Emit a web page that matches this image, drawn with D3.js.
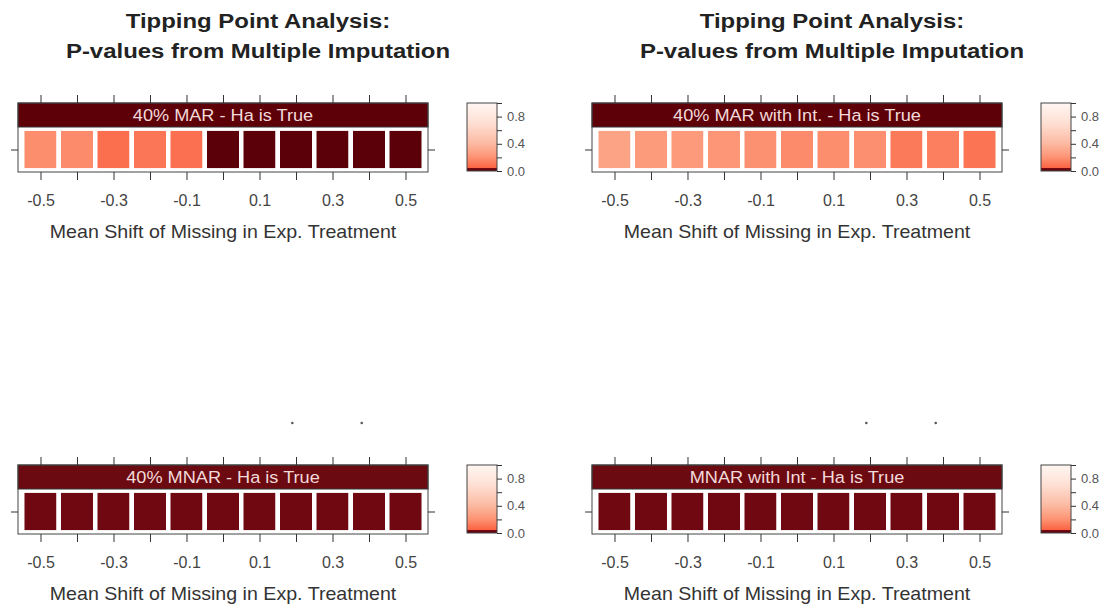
<!DOCTYPE html>
<html>
<head>
<meta charset="utf-8">
<script src="https://cdn.jsdelivr.net/npm/d3@7"></script>
<style>
  body { margin: 0; background: #fff; }
  svg { display: block; font-family: "Liberation Sans", Arial, sans-serif; }
</style>
</head>
<body>
<script>
const shifts = [-0.5, -0.4, -0.3, -0.2, -0.1, 0, 0.1, 0.2, 0.3, 0.4, 0.5];
const shiftLabels = [-0.5, -0.3, -0.1, 0.1, 0.3, 0.5];

// p-values
const pMar = [0.184, 0.177, 0.086, 0.109, 0.089, 0.002, 0.002, 0.002, 0.002, 0.002, 0.002];
const pMarInt = [0.282, 0.241, 0.24, 0.22, 0.197, 0.177, 0.187, 0.19, 0.122, 0.141, 0.105];
const pMnar = [0.035, 0.035, 0.035, 0.035, 0.035, 0.035, 0.035, 0.035, 0.035, 0.035, 0.035];
const pMnarInt = [0.035, 0.035, 0.035, 0.035, 0.035, 0.035, 0.035, 0.035, 0.035, 0.035, 0.035];

const stripLabels = ["40% MAR - Ha is True", "40% MAR with Int. - Ha is True", "40% MNAR - Ha is True", "MNAR with Int - Ha is True"];
const titleLines = ["Tipping Point Analysis:", "P-values from Multiple Imputation"];
const axisTitle = "Mean Shift of Missing in Exp. Treatment";
const keyTicks = [0, 0.2, 0.4, 0.6, 0.8, 1.0];
const keyLabels = [0, 0.4, 0.8];
const specks = [0.19, 0.38];

const W = 1120, H = 610;

const darkScale = d3.scaleLinear().domain([0, 0.05]).range(["#5a0008", "#7a0c16"]);
const lightScale = d3.scaleLinear().
domain([0.05, 0.2, 0.4, 0.7, 1]).
range(["#fb6444", "#fc9272", "#fcb9a1", "#fedfd3", "#fff6f2"]);
const color = p => p < 0.05 ? darkScale(p) : lightScale(p);

const panels = [
{ label: stripLabels[0], values: pMar, left: 18, top: 103, strip: "#5e0008", title: true },
{ label: stripLabels[1], values: pMarInt, left: 592, top: 103, strip: "#5e0008", title: true },
{ label: stripLabels[2], values: pMnar, left: 18, top: 465, strip: "#6c0a12", title: false },
{ label: stripLabels[3], values: pMnarInt, left: 592, top: 465, strip: "#6c0a12", title: false }];


const svg = d3.select("body").
append("svg").
attr("width", W).
attr("height", H);

const grad = svg.append("defs").
append("linearGradient").
attr("id", "keyGrad").
attr("x1", 0).attr("y1", 1).
attr("x2", 0).attr("y2", 0);

const stops = [];
d3.range(0, 0.05, 0.01).forEach(v => stops.push(v));
stops.push(0.0499);
d3.range(0.05, 1.001, 0.025).forEach(v => stops.push(v));
grad.selectAll("stop").
data(stops).
enter().
append("stop").
attr("offset", d => d).
attr("stop-color", d => color(d));

function styleAxis(g) {
  g.select(".domain").remove();
  g.selectAll(".tick line").attr("stroke", "#333");
  g.selectAll(".tick text").attr("fill", "#444");
}

// the source picture is a little stretched sideways, so text is too
function wideText(sel, cx, cy, sx) {
  return sel.
  attr("text-anchor", "middle").
  attr("transform", "translate(" + cx + "," + cy + ") scale(" + sx + ",1)");
}

panels.forEach(p => {
  const pw = 410, stripH = 24, ph = 69;
  const right = p.left + pw, bottom = p.top + ph;
  const cx = (p.left + right) / 2;

  const x = d3.scaleLinear().domain([-0.5616, 0.5616]).range([p.left, right]);
  const y = d3.scaleLinear().domain([0.46, 1.54]).range([bottom, p.top + stripH]);
  const step = x(0.1) - x(0);

  const g = svg.append("g");

  g.selectAll("rect.cell").
  data(shifts.map((s, i) => ({ s: s, p: p.values[i] }))).
  enter().
  append("rect").
  attr("class", "cell").
  attr("x", d => x(d.s) - step / 2).
  attr("y", y(1.5)).
  attr("width", step).
  attr("height", y(0.5) - y(1.5)).
  attr("fill", d => color(d.p)).
  attr("stroke", "#fff").
  attr("stroke-width", 4.5);

  // strip
  g.append("rect").
  attr("x", p.left).
  attr("y", p.top).
  attr("width", pw).
  attr("height", stripH).
  attr("fill", p.strip).
  attr("stroke", "#333");

  g.append("text").
  call(wideText, cx, p.top + stripH / 2 + 6, 1.1).
  attr("font-size", 16.5).
  attr("fill", "#f3dada").
  text(p.label);

  g.append("rect").
  attr("x", p.left).
  attr("y", p.top).
  attr("width", pw).
  attr("height", ph).
  attr("fill", "none").
  attr("stroke", "#444");

  g.append("g").
  attr("transform", "translate(0," + p.top + ")").
  call(d3.axisTop(x).tickValues(shifts).tickSize(8).tickFormat("")).
  call(styleAxis);

  g.append("g").
  attr("transform", "translate(0," + bottom + ")").
  call(d3.axisBottom(x).tickValues(shifts).tickSize(8).tickPadding(15).
  tickFormat(d => shiftLabels.indexOf(d) !== -1 ? String(d) : "")).
  call(styleAxis).
  selectAll("text").
  attr("font-size", 16);

  g.append("g").
  attr("transform", "translate(" + p.left + ",0)").
  call(d3.axisLeft(y).tickValues([1]).tickSize(7).tickFormat("")).
  call(styleAxis);

  g.append("g").
  attr("transform", "translate(" + right + ",0)").
  call(d3.axisRight(y).tickValues([1]).tickSize(7).tickFormat("")).
  call(styleAxis);

  g.append("text").
  call(wideText, cx, bottom + 66, 1.09).
  attr("font-size", 18).
  attr("fill", "#333").
  text(axisTitle);

  //colour key
  const kx = right + 39, kw = 30;
  const ky = d3.scaleLinear().domain([0, 1]).range([bottom - 1, p.top]);

  g.append("rect").
  attr("x", kx).
  attr("y", ky(1)).
  attr("width", kw).
  attr("height", ky(0) - ky(1)).
  attr("fill", "url(#keyGrad)").
  attr("stroke", "#444");

  g.append("g").
  attr("transform", "translate(" + (kx + kw) + ",0)").
  call(d3.axisRight(ky).tickValues(keyTicks).tickSize(5).tickPadding(5).
  tickFormat(d => keyLabels.indexOf(d) !== -1 ? d.toFixed(1) : "")).
  call(styleAxis).
  selectAll("text").
  attr("font-size", 13).
  attr("fill", "#555");

  if (p.title) {
    g.selectAll("text.title").
    data(titleLines).
    enter().
    append("text").
    attr("class", "title").
    each(function (d, i) {
      d3.select(this).call(wideText, cx + 35, 28 + i * 30, 1.14);
    }).
    attr("font-size", 21).
    attr("font-weight", "bold").
    attr("fill", "#222").
    text(d => d);
  } else {
    g.selectAll("circle.speck").
    data(specks).
    enter().
    append("circle").
    attr("class", "speck").
    attr("cx", d => x(d)).
    attr("cy", p.top - 42).
    attr("r", 1.3).
    attr("fill", "#555");
  }
});
</script>
</body>
</html>
